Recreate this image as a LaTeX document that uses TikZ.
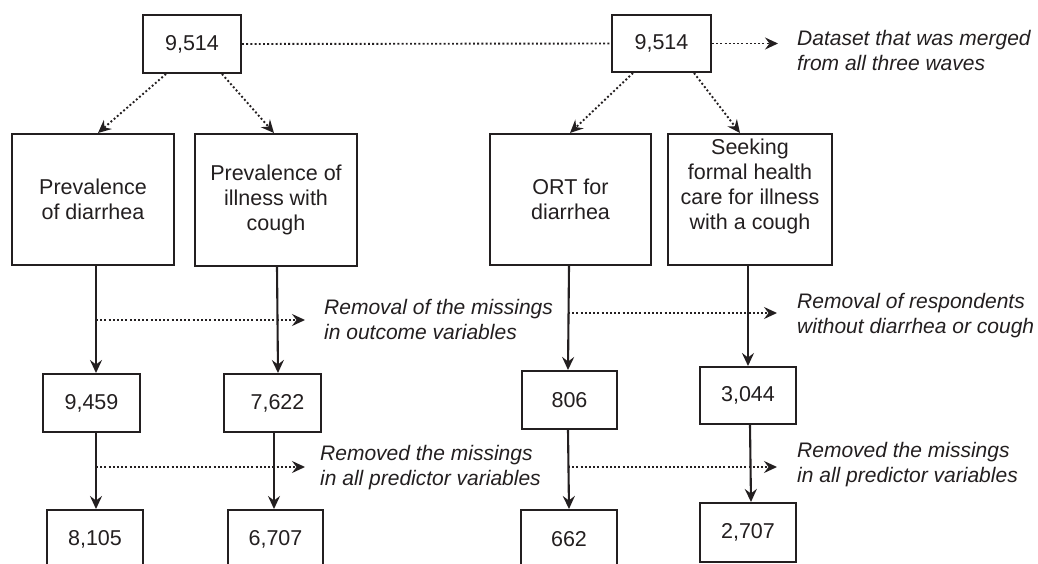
\documentclass[tikz,border=0pt]{standalone}
\usepackage{fontspec}
\setmainfont{Liberation Sans}
\usetikzlibrary{arrows.meta}
\definecolor{ink}{HTML}{231F20}
\begin{document}
\begin{tikzpicture}[x=1pt,y=-1pt,
  box/.style={draw=ink, text=ink, line width=2pt, inner sep=0pt, align=center,
    font=\fontsize{21.5}{25}\selectfont},
  arr/.style={draw=ink, line width=2.1pt, -{Stealth[length=13pt,width=12pt,inset=4.5pt]}},
  dotline/.style={draw=ink, line width=1.9pt, dash pattern=on 1.9pt off 2.3pt},
  dotarr/.style={dotline, -{Stealth[length=13pt,width=12pt,inset=4.5pt]}},
  note/.style={anchor=west, inner sep=0pt, align=left, text=ink,
    font=\fontsize{21}{25}\selectfont\itshape}]
\useasboundingbox (0,0) rectangle (1038,564);

% top row
\node[box, minimum width=98pt, minimum height=58pt] (topL) at (192,44) {9,514};
\node[box, minimum width=99pt, minimum height=57pt] (topR) at (661.5,43.5) {9,514};

% middle row
\node[box, minimum width=162pt, minimum height=131pt] (midA) at (93,199.5) {Prevalence\\of diarrhea};
\node[box, minimum width=162pt, minimum height=132pt] (midB) at (276,200) {Prevalence of\\illness with\\cough};
\node[box, minimum width=161pt, minimum height=131pt] (midC) at (570.5,199.5) {ORT for\\diarrhea};
\node[box, minimum width=164pt, minimum height=131pt] (midD) at (750,199.5) {Seeking\\formal health\\care for illness\\with a cough\\[5pt]};

% third row
\node[box, minimum width=97pt, minimum height=58pt] (nA1) at (91.5,403) {9,459};
\node[box, minimum width=97pt, minimum height=58pt] (nB1) at (272.5,403) {\hspace*{10pt}7,622};
\node[box, minimum width=95pt, minimum height=58pt] (nC1) at (569.5,400) {806};
\node[box, minimum width=96pt, minimum height=57pt] (nD1) at (748,395.5) {3,044};

% bottom row
\node[box, minimum width=96pt, minimum height=58pt] (nA2) at (95,539) {8,105};
\node[box, minimum width=95pt, minimum height=58pt] (nB2) at (275.5,539) {6,707};
\node[box, minimum width=96pt, minimum height=58pt] (nC2) at (569,539) {662};
\node[box, minimum width=96pt, minimum height=59pt] (nD2) at (748,532.5) {2,707};

% notes
\node[note] (t0) at (797,50) {Dataset that was merged\\from all three waves};
\node[note] (t1) at (324,319.5) {Removal of the missings\\in outcome variables};
\node[note] (t2) at (320,467.5) {Removed the missings\\in all predictor variables};
\node[note] (t3) at (797,315.5) {Removal of respondents\\without diarrhea or cough};
\node[note] (t4) at (797,465) {Removed the missings\\in all predictor variables};

% top connectors
\draw[dotline] (topL.east) -- (topR.west);
\coordinate (e0) at (778,43.5);
\draw[dotarr] (topR.east) -- (e0);
\draw[dotarr] ([xshift=-26pt]topL.south) -- ([xshift=5pt]midA.north);
\draw[dotarr] ([xshift=30pt]topL.south) -- ([xshift=-2pt]midB.north);
\draw[dotarr] ([xshift=-28.5pt]topR.south) -- ([xshift=-0.5pt]midC.north);
\draw[dotarr] ([xshift=32.5pt]topR.south) -- ([xshift=-10pt]midD.north);

% vertical connectors
\draw[arr] ([xshift=3pt]midA.south) -- ([xshift=4.5pt]nA1.north);
\draw[arr] ([xshift=1pt]midB.south) -- ([xshift=5.5pt]nB1.north);
\draw[arr] ([xshift=-1.5pt]midC.south) -- ([xshift=-1.5pt]nC1.north);
\draw[arr] ([xshift=-2pt]midD.south) -- (nD1.north);

\draw[arr] ([xshift=4.5pt]nA1.south) -- ([xshift=1pt]nA2.north);
\draw[arr] ([xshift=1.5pt]nB1.south) -- ([xshift=-1.5pt]nB2.north);
\draw[arr] ([xshift=-1.5pt]nC1.south) -- (nC2.north);
\draw[arr] ([xshift=2pt]nD1.south) -- ([xshift=3pt]nD2.north);

% horizontal dotted arrows
\coordinate (s1) at (96,320);   \coordinate (e1) at (305,320);
\coordinate (s2) at (96,467);   \coordinate (e2) at (305,467);
\coordinate (s3) at (568,313);  \coordinate (e3) at (777,313);
\coordinate (s4) at (568,467);  \coordinate (e4) at (777,467);
\draw[dotarr] (s1) -- (e1);
\draw[dotarr] (s2) -- (e2);
\draw[dotarr] (s3) -- (e3);
\draw[dotarr] (s4) -- (e4);
\end{tikzpicture}
\end{document}
